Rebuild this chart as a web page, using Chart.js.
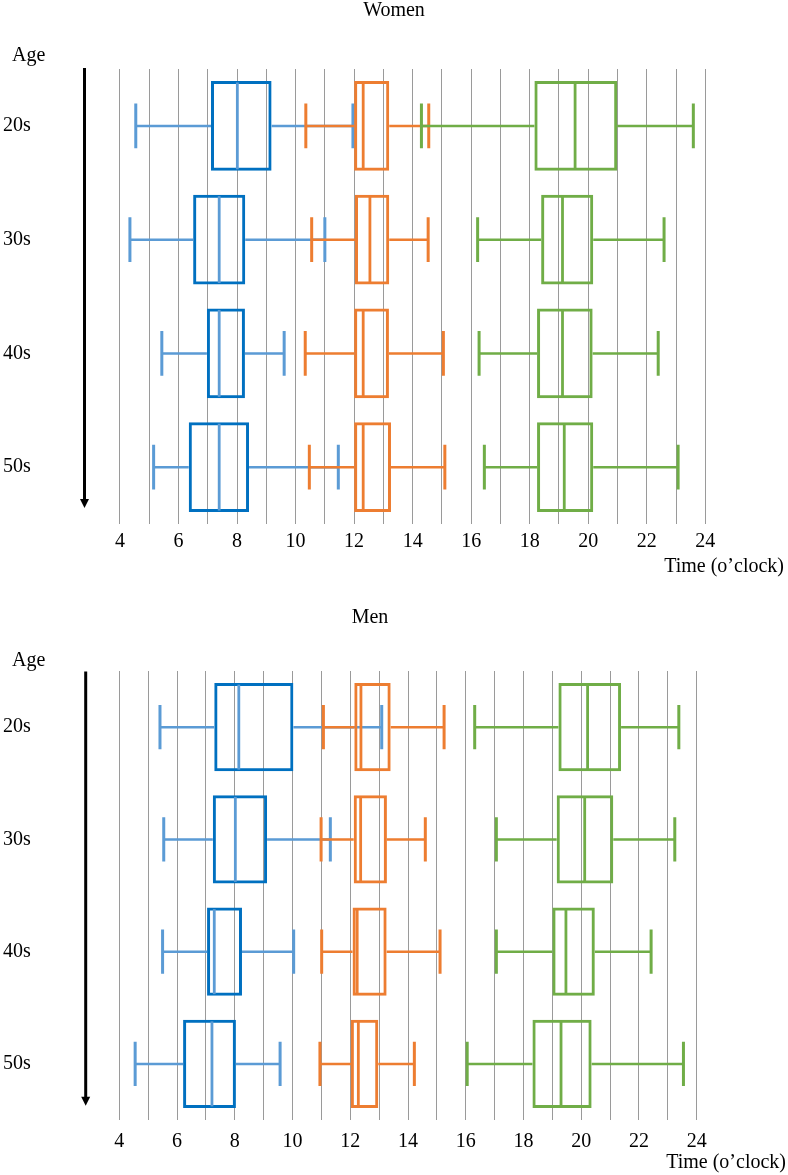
<!DOCTYPE html>
<html><head><meta charset="utf-8">
<script src="https://cdn.jsdelivr.net/npm/chart.js@4/dist/chart.umd.min.js"></script>
<style>
html,body{margin:0;padding:0;background:#fff;}
#wrap{position:relative;width:788px;height:1175px;overflow:hidden;}
canvas{position:absolute;left:0;}
</style></head><body>
<div id="wrap">
<canvas id="women" width="788" height="600" style="top:0px"></canvas>
<canvas id="men" width="788" height="575" style="top:600px"></canvas>
</div>
<script>
// ---- data ----
const ageGroups = ['20s', '30s', '40s', '50s'];
const timeTicks = [4,5,6,7,8,9,10,11,12,13,14,15,16,17,18,19,20,21,22,23,24];
const mealNames = ['Breakfast', 'Lunch', 'Dinner'];
const axisTitleY = 'Age';
const axisTitleX = 'Time (o’clock)';
const panelTitles = ['Women', 'Men'];

// each row: [min, q1, median, q3, max] for 20s, 30s, 40s, 50s
const womenBreakfast = [
  [4.54, 7.11, 8.01, 9.18, 11.96],
  [4.34, 6.50, 7.39, 8.28, 11.00],
  [5.43, 6.97, 7.39, 8.27, 9.61],
  [5.15, 6.35, 7.39, 8.41, 11.46]
];
const womenLunch = [
  [10.35, 12.00, 12.31, 13.20, 14.55],
  [10.55, 12.03, 12.54, 13.20, 14.53],
  [10.33, 12.00, 12.31, 13.19, 15.05],
  [10.47, 12.00, 12.31, 13.26, 15.10]
];
const womenDinner = [
  [14.30, 18.16, 19.55, 20.99, 23.59],
  [16.22, 18.39, 19.12, 20.17, 22.59],
  [16.27, 18.25, 19.12, 20.15, 22.39],
  [16.45, 18.25, 19.18, 20.17, 23.07]
];
const menBreakfast = [
  [5.41, 7.29, 8.14, 10.03, 13.09],
  [5.54, 7.24, 8.02, 9.12, 11.31],
  [5.50, 7.04, 7.29, 8.25, 10.04],
  [4.55, 6.21, 7.21, 8.04, 9.57]
];
const menLunch = [
  [11.07, 12.14, 12.37, 13.40, 15.25],
  [10.99, 12.12, 12.36, 13.27, 14.60],
  [11.01, 12.08, 12.24, 13.26, 15.11],
  [10.95, 12.02, 12.28, 12.97, 14.22]
];
const menDinner = [
  [16.31, 19.21, 20.22, 21.38, 23.38],
  [17.06, 19.15, 20.12, 21.11, 23.24],
  [17.06, 19.00, 19.47, 20.47, 22.42],
  [16.05, 18.31, 19.30, 20.36, 23.54]
];

// ---- styling ----
const FONT = '"Liberation Serif", "Times New Roman", Times, serif';
const boxColors = ['#0070C0', '#ED7D31', '#70AD47'];
const whiskerColors = ['#5B9BD5', '#ED7D31', '#70AD47'];
const medianColors = ['#5B9BD5', '#ED7D31', '#70AD47'];

const boxPlugin = {
  id: 'boxWhiskers',
  afterDatasetDraw(chart, args) {
    const ds = chart.data.datasets[args.index];
    const xs = chart.scales.x;
    const ctx = chart.ctx;
    const px = v => xs.getPixelForValue(v);
    ctx.save();
    ctx.lineCap = 'butt';
    args.meta.data.forEach((bar, i) => {
      const s = ds.stats[i];
      const p = bar.getProps(['y', 'height'], true);
      const y = p.y, h = p.height;
      ctx.strokeStyle = ds.whiskerColor;
      ctx.lineWidth = 2.5;
      ctx.beginPath();
      ctx.moveTo(px(s[0]), y); ctx.lineTo(px(s[1]), y);
      ctx.moveTo(px(s[3]), y); ctx.lineTo(px(s[4]), y);
      ctx.stroke();
      ctx.lineWidth = 3;
      ctx.beginPath();
      ctx.moveTo(px(s[0]), y - h / 4); ctx.lineTo(px(s[0]), y + h / 4);
      ctx.moveTo(px(s[4]), y - h / 4); ctx.lineTo(px(s[4]), y + h / 4);
      ctx.stroke();
      ctx.strokeStyle = ds.medianColor;
      ctx.lineWidth = 2.8;
      ctx.beginPath();
      ctx.moveTo(px(s[2]), y - h / 2 + 1.5); ctx.lineTo(px(s[2]), y + h / 2 - 1.5);
      ctx.stroke();
    });
    ctx.restore();
  }
};

const decorPlugin = {
  id: 'decor',
  afterDraw(chart, args, o) {
    const ctx = chart.ctx;
    ctx.save();
    ctx.fillStyle = '#000';
    ctx.font = '20px ' + FONT;
    ctx.textBaseline = 'alphabetic';
    ctx.textAlign = 'center'; ctx.fillText(o.title, o.titleX, o.titleY);
    ctx.textAlign = 'left'; ctx.fillText(axisTitleY, o.ageX, o.ageY);
    ctx.textAlign = 'right'; ctx.fillText(axisTitleX, o.timeX, o.timeY);
    ctx.strokeStyle = '#000'; ctx.lineWidth = 3;
    ctx.beginPath(); ctx.moveTo(o.arrowX, o.arrowTop); ctx.lineTo(o.arrowX, o.arrowBottom - 7); ctx.stroke();
    ctx.beginPath();
    ctx.moveTo(o.arrowX - 4.5, o.arrowBottom - 9);
    ctx.lineTo(o.arrowX + 4.5, o.arrowBottom - 9);
    ctx.lineTo(o.arrowX, o.arrowBottom);
    ctx.closePath(); ctx.fill();
    ctx.restore();
  }
};

function makeDatasets(series) {
  return series.map((stats, k) => ({
    label: mealNames[k],
    data: stats.map(s => [s[1], s[3]]),
    stats: stats,
    whiskerColor: whiskerColors[k],
    medianColor: medianColors[k],
    borderColor: boxColors[k],
    backgroundColor: 'rgba(0,0,0,0)',
    borderWidth: 3,
    borderSkipped: false,
    grouped: false,
    order: 3 - k
  }));
}

function makeChart(id, series, cfg) {
  return new Chart(document.getElementById(id), {
    type: 'bar',
    data: { labels: ageGroups, datasets: makeDatasets(series) },
    plugins: [boxPlugin, decorPlugin],
    options: {
      indexAxis: 'y',
      responsive: false,
      animation: false,
      devicePixelRatio: 1,
      barPercentage: cfg.barPct,
      categoryPercentage: 1,
      layout: { padding: { left: 3, right: cfg.padRight, top: cfg.padTop, bottom: 0 } },
      plugins: {
        legend: { display: false },
        tooltip: { enabled: false },
        title: { display: false },
        decor: cfg.decor
      },
      scales: {
        x: {
          type: 'linear', min: 3, max: 25,
          afterBuildTicks: s => { s.ticks = timeTicks.map(v => ({ value: v })); },
          afterFit: s => { s.height = cfg.xHeight; },
          grid: { color: '#9a9a9a', lineWidth: 1, drawTicks: false },
          border: { display: false },
          ticks: {
            autoSkip: false, maxRotation: 0, padding: cfg.tickPad, color: '#000',
            font: { family: FONT, size: 20 },
            callback: v => (v % 2 === 0 ? String(v) : '')
          }
        },
        y: {
          type: 'category',
          afterFit: s => { s.width = cfg.yWidth; },
          grid: { display: false },
          border: { display: false },
          ticks: { crossAlign: 'far', padding: 0, color: '#000', font: { family: FONT, size: 20 } }
        }
      }
    }
  });
}

makeChart('women', [womenBreakfast, womenLunch, womenDinner], {
  barPct: 0.79, padRight: 53.4, padTop: 69, xHeight: 76, yWidth: 87.7, tickPad: 6,
  decor: { title: panelTitles[0], titleX: 394, titleY: 16, ageX: 12, ageY: 61,
           timeX: 784, timeY: 572, arrowX: 84.5, arrowTop: 68, arrowBottom: 508 }
});
makeChart('men', [menBreakfast, menLunch, menDinner], {
  barPct: 0.784, padRight: 62.4, padTop: 71, xHeight: 55, yWidth: 87.4, tickPad: 10,
  decor: { title: panelTitles[1], titleX: 370, titleY: 23, ageX: 12, ageY: 66,
           timeX: 786, timeY: 568, arrowX: 85.7, arrowTop: 71.5, arrowBottom: 505.7 }
});
</script>
</body></html>
